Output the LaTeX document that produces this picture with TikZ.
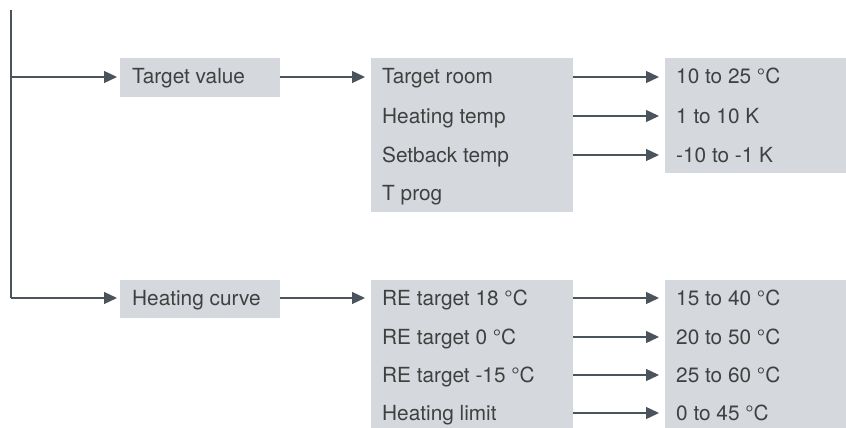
\documentclass[tikz,border=0pt]{standalone}
\usepackage{fontspec}
\setmainfont{TeX Gyre Heros}
\usetikzlibrary{arrows.meta}
\definecolor{boxgray}{HTML}{D5D9DE}
\definecolor{linegray}{HTML}{4B535C}
\definecolor{txtgray}{HTML}{404040}
\tikzset{
  boxbg/.style={fill=boxgray, draw=none, inner sep=0pt, anchor=north west},
  lbl/.style={anchor=base west, inner sep=0pt, text=txtgray, font=\fontsize{20.8}{23}\selectfont},
  arr/.style={draw=linegray, line width=1.3pt, -{Triangle[length=13pt,width=12pt]}},
  ln/.style={draw=linegray, line width=1.3pt},
}
\begin{document}
\begin{tikzpicture}[x=1pt,y=-1pt]
\useasboundingbox (0,0) rectangle (846,428);
% boxes
\node[boxbg, minimum width=160pt, minimum height=39pt] (tv) at (120,58) {};
\node[boxbg, minimum width=202pt, minimum height=154pt] (b2) at (371,58) {};
\node[boxbg, minimum width=181pt, minimum height=115pt] (b3) at (665,58) {};
\node[boxbg, minimum width=160pt, minimum height=38pt] (hc) at (120,280) {};
\node[boxbg, minimum width=202pt, minimum height=148pt] (b4) at (371,280) {};
\node[boxbg, minimum width=181pt, minimum height=148pt] (b5) at (665,280) {};
% row centre coordinates
\coordinate (j1) at (11,77);
\coordinate (ra) at (0,116);
\coordinate (rb) at (0,155);
\coordinate (rc) at (0,193);
\coordinate (j2) at (11,298);
\coordinate (sa) at (0,337);
\coordinate (sb) at (0,375);
\coordinate (sc) at (0,413);
% labels (baseline 7 below row centre)
\node[lbl] (tvl) at (132,84) {Target value};
\node[lbl] (r1) at (382,84) {Target room};
\node[lbl] (r2) at (382,123) {Heating temp};
\node[lbl] (r3) at (382,162) {Setback temp};
\node[lbl] (r4) at (382,200) {T prog};
\node[lbl] (v1) at (676,84) {10 to 25 °C};
\node[lbl] (v2) at (676,123) {1 to 10 K};
\node[lbl] (v3) at (676,162) {-10 to -1 K};
\node[lbl] (hcl) at (132,305) {Heating curve};
\node[lbl] (s1) at (382,305) {RE target 18 °C};
\node[lbl] (s2) at (382,344) {RE target 0 °C};
\node[lbl] (s3) at (382,382) {RE target -15 °C};
\node[lbl] (s4) at (382,420) {Heating limit};
\node[lbl] (w1) at (676,305) {15 to 40 °C};
\node[lbl] (w2) at (676,344) {20 to 50 °C};
\node[lbl] (w3) at (676,382) {25 to 60 °C};
\node[lbl] (w4) at (676,420) {0 to 45 °C};
% trunk
\coordinate (top) at (11,10);
\draw[ln] (top) -- (j2);
\draw[arr, shorten >=3pt] (j1) -- (tv.west |- j1);
\draw[arr, shorten >=3pt] (j2) -- (hc.west |- j2);
\draw[arr, shorten >=6pt] (tv.east |- j1) -- (b2.west |- j1);
\draw[arr, shorten >=6pt] (hc.east |- j2) -- (b4.west |- j2);
\foreach \r in {j1,ra,rb}
  \draw[arr, shorten >=6pt] (b2.east |- \r) -- (b3.west |- \r);
\foreach \r in {j2,sa,sb,sc}
  \draw[arr, shorten >=6pt] (b4.east |- \r) -- (b5.west |- \r);
\end{tikzpicture}
\end{document}
